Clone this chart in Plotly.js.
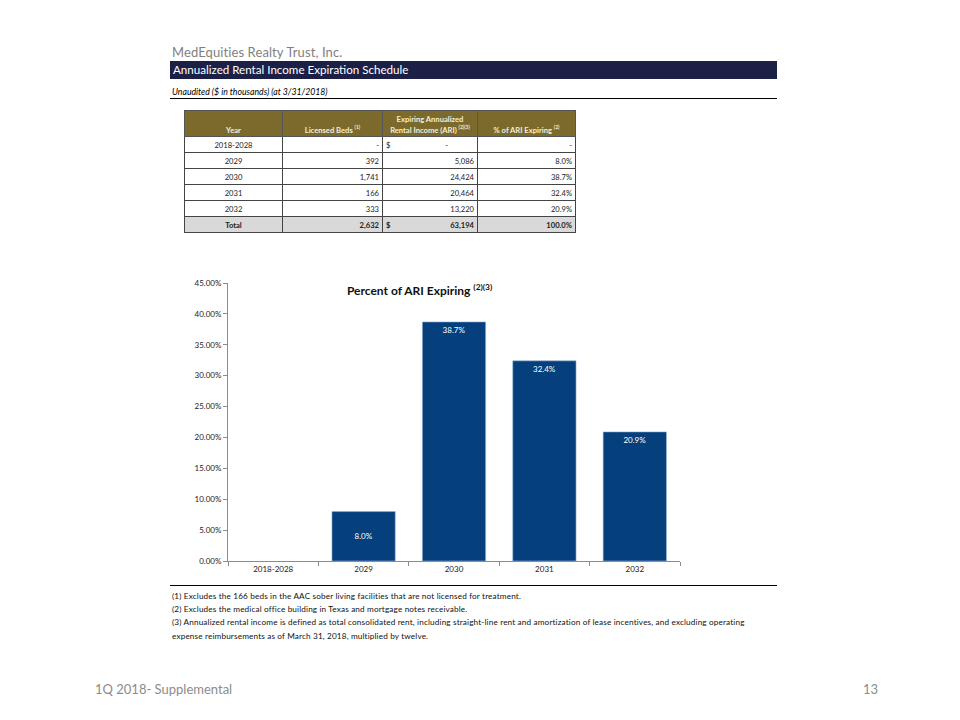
<!DOCTYPE html>
<html>
<head>
<meta charset="utf-8">
<script src="https://cdn.plot.ly/plotly-3.0.1.min.js"></script>
<style>
  html, body { margin:0; padding:0; background:#fff; }
  body { width:960px; height:720px; position:relative; overflow:hidden; font-family: Lato, "Open Sans", "Liberation Sans", sans-serif; }
  .abs { position:absolute; }
  #company { left:172px; top:44px; font-size:13px; color:#7f7f7f; letter-spacing:0.1px; }
  #band { left:170px; top:61px; width:607px; height:18px; background:#1c2046; color:#fff; font-size:11.6px; line-height:18px; }
  #band span { padding-left:3px; }
  #unaud { left:172px; top:86px; font-size:8.7px; font-style:italic; color:#000; }
  .rule { left:170px; width:607px; height:0; border-top:1.3px solid #000; }
  #tbl { left:184px; top:110px; border-collapse:collapse; table-layout:fixed; font-size:7.6px; color:#222; }
  #tbl td { border:1px solid #444; padding:0 3px; height:16px; box-sizing:border-box; }
  #tbl tr.hd td { background:#7b6a2b; color:#f3eed8; font-weight:bold; height:26px; vertical-align:bottom; padding-bottom:1px; text-align:center; border-color:#555; }
  #tbl tr.tot td { background:#d9d9d9; font-weight:bold; }
  #tbl td.c1 { width:98px; text-align:center; }
  #tbl td.c2 { width:100px; text-align:right; }
  #tbl td.c3 { width:95px; }
  #tbl td.c4 { width:98px; text-align:right; }
  .dol { float:left; }
  .num { float:right; }
  sup { font-size:5px; }
  #chart { left:170px; top:270px; width:520px; height:316px; }
  .fn { left:172px; font-size:8.2px; letter-spacing:0.15px; color:#111; white-space:nowrap; }
  #foot1 { left:95px; top:681px; font-size:13px; color:#8c8c8c; }
  #foot2 { left:863px; top:681px; font-size:13px; color:#8c8c8c; }
</style>
</head>
<body>
<div id="company" class="abs">MedEquities Realty Trust, Inc.</div>
<div id="band" class="abs"><span>Annualized Rental Income Expiration Schedule</span></div>
<div id="unaud" class="abs">Unaudited ($ in thousands) (at 3/31/2018)</div>
<div class="abs rule" style="top:98px"></div>
<table id="tbl" class="abs"></table>
<div id="chart" class="abs"></div>
<div class="abs rule" style="top:585px"></div>
<div class="abs fn" style="top:591px">(1) Excludes the 166 beds in the AAC sober living facilities that are not licensed for treatment.</div>
<div class="abs fn" style="top:604px">(2) Excludes the medical office building in Texas and mortgage notes receivable.</div>
<div class="abs fn" style="top:617px">(3) Annualized rental income is defined as total consolidated rent, including straight-line rent and amortization of lease incentives, and excluding operating</div>
<div class="abs fn" style="top:631px">expense reimbursements as of March 31, 2018, multiplied by twelve.</div>
<div id="foot1" class="abs">1Q 2018- Supplemental</div>
<div id="foot2" class="abs">13</div>
<script>
// ---- data ----
var years = ["2018-2028", "2029", "2030", "2031", "2032"];
var licensedBeds = ["-", "392", "1,741", "166", "333"];
var ariValues = ["-", "5,086", "24,424", "20,464", "13,220"];
var pctLabels = ["-", "8.0%", "38.7%", "32.4%", "20.9%"];
var pctValues = [0, 8.0, 38.7, 32.4, 20.9];
var totalBeds = "2,632";
var totalAri = "63,194";
var totalPct = "100.0%";
var yTickVals = [0, 5, 10, 15, 20, 25, 30, 35, 40, 45];

// ---- table ----
var t = document.getElementById('tbl');
var html = '<tr class="hd"><td class="c1">Year</td><td class="c2" style="text-align:center">Licensed Beds <sup>(1)</sup></td>' +
  '<td class="c3" style="text-align:center">Expiring Annualized<br>Rental Income (ARI) <sup>(2)(3)</sup></td>' +
  '<td class="c4" style="text-align:center">% of ARI Expiring <sup>(2)</sup></td></tr>';
for (var i = 0; i < years.length; i++) {
  var ari = (i === 0) ? '<span class="dol">$</span><span class="num" style="padding-right:26px">' + ariValues[i] + '</span>'
                      : '<span class="num">' + ariValues[i] + '</span>';
  html += '<tr><td class="c1">' + years[i] + '</td><td class="c2">' + licensedBeds[i] + '</td><td class="c3">' + ari +
          '</td><td class="c4">' + pctLabels[i] + '</td></tr>';
}
html += '<tr class="tot"><td class="c1">Total</td><td class="c2">' + totalBeds + '</td><td class="c3"><span class="dol">$</span><span class="num">' +
        totalAri + '</span></td><td class="c4">' + totalPct + '</td></tr>';
t.innerHTML = html;

// ---- chart ----
var yv = pctValues.map(function (v) { return v > 0 ? v / 100 : null; });
var txt = pctValues.map(function (v, i) { return v > 0 ? pctLabels[i] : ''; });
var endY = yv.map(function (v, i) { return i === 1 ? null : v; });
var midY = yv.map(function (v, i) { return i === 1 ? v : null; });
var common = {
  type: 'bar', x: years, marker: { color: '#053f7c', line: { color: '#9ab7d6', width: 0.6 } },
  textposition: 'inside', textangle: 0,
  textfont: { color: '#ffffff', size: 8, family: 'Lato, "Open Sans", sans-serif' },
  hoverinfo: 'none', showlegend: false
};
var tr1 = Object.assign({}, common, { y: endY, text: txt, insidetextanchor: 'end' });
var tr2 = Object.assign({}, common, { y: midY, text: txt, insidetextanchor: 'middle' });

var layout = {
  width: 520, height: 316,
  margin: { l: 58, r: 10, t: 13, b: 25 },
  paper_bgcolor: 'rgba(0,0,0,0)', plot_bgcolor: 'rgba(0,0,0,0)',
  barmode: 'overlay', bargap: 0.3,
  font: { family: 'Lato, "Open Sans", sans-serif', size: 8, color: '#222' },
  title: { text: 'Percent of ARI Expiring <sup>(2)(3)</sup>', x: 0.48, xanchor: 'center', y: 0.935, yanchor: 'middle',
           font: { size: 12, color: '#111', family: 'Lato, "Open Sans", sans-serif', weight: 'bold' } },
  xaxis: {
    type: 'category', showline: true, linecolor: '#8c8c8c', linewidth: 1,
    ticks: 'outside', tickson: 'boundaries', ticklen: 4, tickcolor: '#8c8c8c',
    showgrid: false, zeroline: false, tickfont: { size: 8, color: '#222' }
  },
  yaxis: {
    range: [0, 0.45], tickvals: yTickVals.map(function (v) { return v / 100; }), tickformat: '.2%',
    showline: true, linecolor: '#8c8c8c', linewidth: 1, ticks: 'outside', ticklen: 4, tickcolor: '#8c8c8c',
    showgrid: false, zeroline: false, tickfont: { size: 8, color: '#222' }
  }
};
Plotly.newPlot('chart', [tr1, tr2], layout, { staticPlot: true, displayModeBar: false });
</script>
</body>
</html>
